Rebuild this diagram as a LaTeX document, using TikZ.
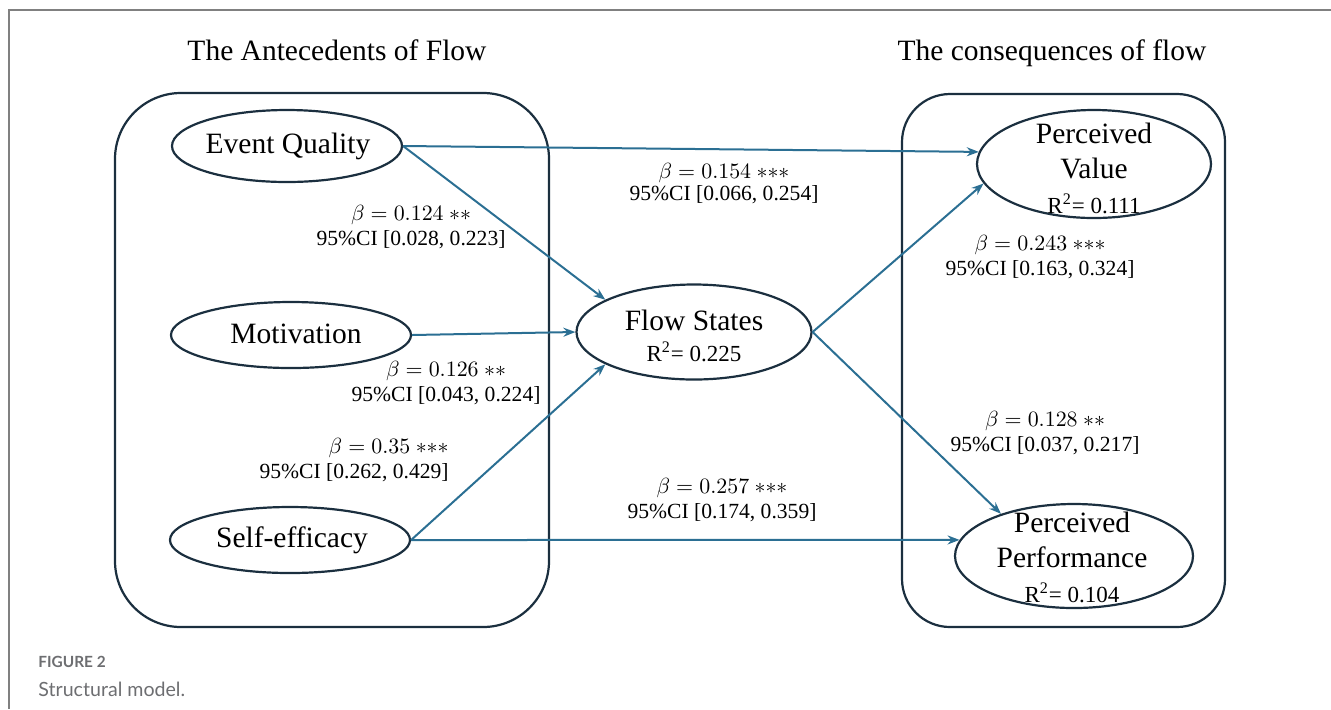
\documentclass[tikz,border=0pt]{standalone}
\usepackage{fontspec}
\setmainfont{Liberation Serif}
\newfontfamily\capfont{Lato}
\usetikzlibrary{shapes.geometric,arrows.meta}

\definecolor{boxline}{HTML}{1B2F3F}
\definecolor{pathblue}{HTML}{2B6F93}
\definecolor{capgray}{HTML}{6D6E71}

\newcommand{\rsqfont}{\fontsize{11.5}{13}\selectfont}

\tikzset{
  oval/.style={ellipse, draw=boxline, line width=1.1pt, inner sep=0pt},
  lbl/.style={font=\fontsize{14.75}{17.5}\selectfont, align=center, inner sep=0pt},
  coef/.style={font=\fontsize{10.8}{12.5}\selectfont, align=center, inner sep=0pt},
  path/.style={draw=pathblue, line width=1pt, -{Stealth[length=6pt,width=4.5pt]}},
  heading/.style={font=\fontsize{14.75}{17}\selectfont, inner sep=0pt}
}

\begin{document}
\begin{tikzpicture}[x=0.5pt,y=-0.5pt]

  \useasboundingbox (0,0) rectangle (1331,709);

  \def\antebox{(115,93) rectangle (549,627)}
  \def\consbox{(902,94) rectangle (1225,627)}

  \draw[gray, line width=0.75pt] (1331,10) -- (9,10) -- (9,709);

  \begin{scope}
      \draw[boxline, line width=1.1pt, rounded corners=33pt] \antebox;
      \draw[boxline, line width=1.1pt, rounded corners=24pt] \consbox;
  \end{scope}

  \node[heading] (antetitle) at (337,50) {The Antecedents of Flow};
  \node[heading] (constitle) at (1052,53) {The consequences of flow};

  \node[oval, minimum width=115pt, minimum height=36pt] (eq) at (287,146) {};
  \node[oval, minimum width=120pt, minimum height=33pt] (mo) at (291,335) {};
  \node[oval, minimum width=120pt, minimum height=33pt] (se) at (290,540) {};
  \node[oval, minimum width=117.5pt, minimum height=47.5pt] (fs) at (694,332) {};
  \node[oval, minimum width=117pt, minimum height=54pt] (pv) at (1094,164) {};
  \node[oval, minimum width=119pt, minimum height=52pt] (pp) at (1074,556) {};

  \node[lbl] (eqtext) at (288,146) {Event Quality};
  \node[lbl] (motext) at (296,334) {Motivation};
  \node[lbl] (setext) at (292,540) {Self-efficacy};
  \node[lbl] (fstext) at (694,336) {Flow States\\[-2pt]{\rsqfont R\textsuperscript{2}= 0.225}};
  \node[lbl] (pvtext) at (1094,168) {Perceived\\Value\\{\rsqfont R\textsuperscript{2}= 0.111}};
  \node[lbl] (pptext) at (1072,557) {Perceived\\Performance\\{\rsqfont R\textsuperscript{2}= 0.104}};

  \draw[path] (eq.east) -- (pv.174);
  \draw[path] (eq.east) -- (fs.160);
  \draw[path] (mo.east) -- (fs.west);
  \draw[path] (se.east) -- (fs.200);
  \draw[path] (se.east) -- (pp.172);
  \draw[path] (fs.east) -- (pv.190);
  \draw[path] (fs.east) -- (pp.150);

  \node[coef] (eqpv) at (724,184) {$\beta = 0.154$ ${*}{*}{*}$\\[-1.5pt]95\%CI [0.066, 0.254]};
  \node[coef] (eqfs) at (411,227) {$\beta = 0.124$ ${*}{*}$\\95\%CI [0.028, 0.223]};
  \node[coef] (mofs) at (446,383) {$\beta = 0.126$ ${*}{*}$\\95\%CI [0.043, 0.224]};
  \node[coef, align=right, anchor=east] (sefs) at (449,460) {$\beta = 0.35$ ${*}{*}{*}$\\95\%CI [0.262, 0.429]};
  \node[coef] (fspv) at (1040,257) {$\beta = 0.243$ ${*}{*}{*}$\\95\%CI [0.163, 0.324]};
  \node[coef] (fspp) at (1045,433) {$\beta = 0.128$ ${*}{*}$\\95\%CI [0.037, 0.217]};
  \node[coef] (sepp) at (722,500) {$\beta = 0.257$ ${*}{*}{*}$\\95\%CI [0.174, 0.359]};

  \node[anchor=west, inner sep=0pt, text=capgray, font=\capfont\bfseries\fontsize{7.7}{9}\selectfont] (fignum) at (38,662) {FIGURE 2};
  \node[anchor=west, inner sep=0pt, text=capgray, font=\capfont\fontsize{9.8}{12}\selectfont] (figcap) at (38,689) {Structural model.};

\end{tikzpicture}
\end{document}
